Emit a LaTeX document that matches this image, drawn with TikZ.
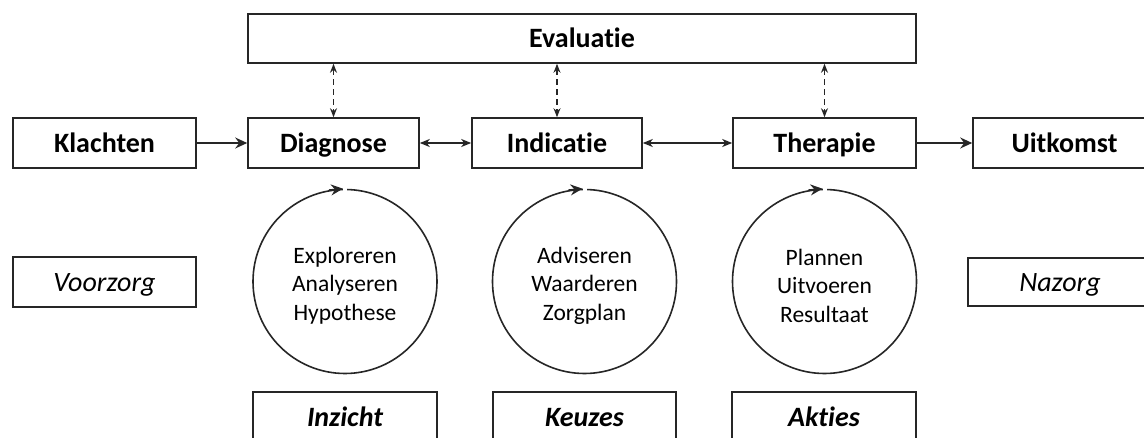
\documentclass[tikz,border=0pt]{standalone}
\usepackage{fontspec}
\setmainfont{Carlito}[Ligatures={NoCommon}]
\usetikzlibrary{arrows.meta}
\begin{document}
\begin{tikzpicture}[x=1pt,y=-1pt,
  line/.style={draw=black!85,line width=1.6pt},
  box/.style={line,inner sep=0pt,minimum height=50pt,text height=22pt,text depth=3pt},
  lbl/.style={font=\fontsize{28}{32}\selectfont\bfseries},
  ital/.style={font=\fontsize{28}{32}\selectfont\itshape},
  bital/.style={font=\fontsize{28}{32}\selectfont\bfseries\itshape},
  cycle/.style={line,circle,minimum size=184pt,inner sep=0pt},
  cycletext/.style={align=center,inner sep=0pt,font=\fontsize{23.5}{28.5}\selectfont},
  tip/.style={-{Stealth[length=12pt,width=11pt,inset=4pt]}},
  tips/.style={{Stealth[length=10pt,width=8pt,inset=3pt]}-{Stealth[length=10pt,width=8pt,inset=3pt]}},
  dtips/.style={dashed,dash pattern=on 6pt off 4pt,
    {Stealth[length=9pt,width=7pt,inset=3pt]}-{Stealth[length=9pt,width=7pt,inset=3pt]}}
]
\clip (0,0) rectangle (1144,438);
\fill[white] (0,0) rectangle (1144,438);

% evaluation bar
\node[box,minimum width=668pt,minimum height=49pt,lbl] (eval) at (582,38.5) {Evaluatie};

% main process row
\node[box,minimum width=183pt,lbl] (klachten)  at (104.5,143) {Klachten};
\node[box,minimum width=171pt,lbl] (diagnose)  at (333.5,143) {Diagnose};
\node[box,minimum width=170pt,lbl] (indicatie) at (557,143)   {Indicatie};
\node[box,minimum width=183pt,lbl] (therapie)  at (824.5,143) {Therapie};
\node[box,minimum width=183pt,lbl] (uitkomst)  at (1064.5,143) {Uitkomst};

% before / after care
\node[box,minimum width=183pt,ital] (voorzorg) at (104.5,282) {Voorzorg};
\node[box,minimum width=184pt,minimum height=48pt,ital] (nazorg) at (1060,282) {Nazorg};

% cycles with their steps
\node[cycle] (c1) at (345,281.5)   {};
\node[cycle] (c2) at (584.5,281.5) {};
\node[cycle] (c3) at (824.5,281.5) {};
\node[cycletext] (c1t) at (345,285.5)   {Exploreren\\Analyseren\\Hypothese};
\node[cycletext] (c2t) at (584.5,285.5) {Adviseren\\Waarderen\\Zorgplan};
\node[cycletext] (c3t) at (824.5,285.5) {Plannen\\Uitvoeren\\Resultaat};

% results
\node[box,minimum width=184pt,bital] (inzicht) at (345,417)   {Inzicht};
\node[box,minimum width=183pt,bital] (keuzes)  at (584.5,417) {Keuzes};
\node[box,minimum width=184pt,bital] (akties)  at (824,417)   {Akties};

% connectors
\draw[line,tip]  (klachten) -- (diagnose);
\draw[line,tips] (diagnose) -- (indicatie);
\draw[line,tips] (indicatie) -- (therapie);
\draw[line,tip]  (therapie) -- (uitkomst);

\foreach \n in {diagnose,indicatie,therapie}
  \draw[line,line width=1.3pt,dtips] (eval.south -| \n.north) -- (\n.north);

% cycle direction marks
\foreach \c in {c1,c2,c3}{
  \fill[white] ([xshift=-2pt,yshift=-3pt]\c.north) rectangle ([xshift=2pt,yshift=3pt]\c.north);
  \draw[line,tip] ([xshift=-16pt,yshift=-1.4pt]\c.north) -- ([xshift=-2pt]\c.north);
}
\end{tikzpicture}
\end{document}
